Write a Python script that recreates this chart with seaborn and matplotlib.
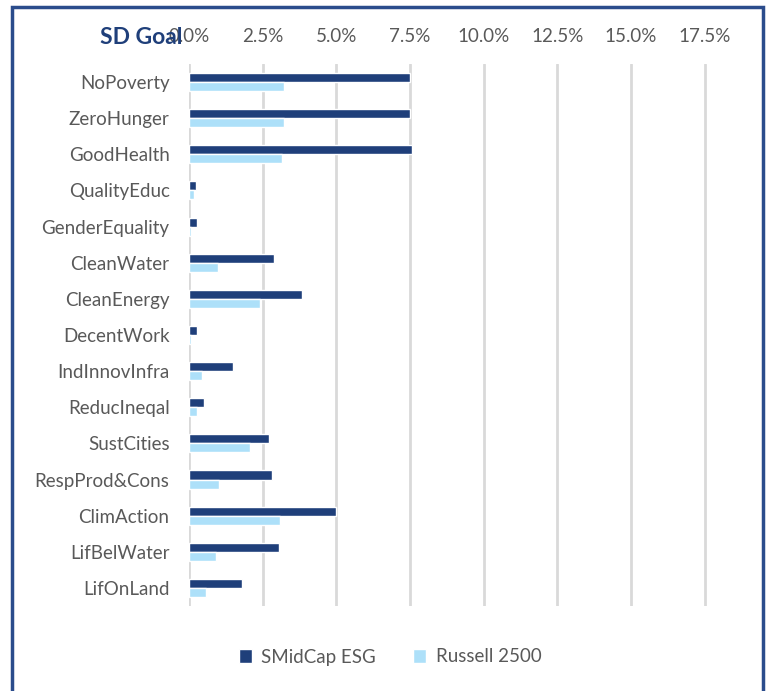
import matplotlib
matplotlib.use('Agg')
import matplotlib.pyplot as plt
import matplotlib.ticker as mticker
from matplotlib.patches import Rectangle
import pandas as pd
import seaborn as sns

# Chart data (share of portfolio mapped to each SD goal)
goals = ['NoPoverty', 'ZeroHunger', 'GoodHealth', 'QualityEduc', 'GenderEquality',
         'CleanWater', 'CleanEnergy', 'DecentWork', 'IndInnovInfra', 'ReducIneqal',
         'SustCities', 'RespProd&Cons', 'ClimAction', 'LifBelWater', 'LifOnLand']
smidcap_esg = [0.0750, 0.0750, 0.0758, 0.0025, 0.0026, 0.0288, 0.0382, 0.0026,
               0.0149, 0.0052, 0.0271, 0.0282, 0.0498, 0.0305, 0.0181]
russell_2500 = [0.0323, 0.0323, 0.0315, 0.0016, 0.0008, 0.0097, 0.0240, 0.0008,
                0.0043, 0.0026, 0.0207, 0.0102, 0.0308, 0.0093, 0.0059]
series_names = ['SMidCap ESG', 'Russell 2500']
tick_values = [0, 0.025, 0.05, 0.075, 0.10, 0.125, 0.15, 0.175]

df = pd.DataFrame({
    'Goal': goals * 2,
    'Series': [series_names[0]] * len(goals) + [series_names[1]] * len(goals),
    'Value': smidcap_esg + russell_2500,
})

sns.set_style('white')
plt.rcParams['font.family'] = ['Lato', 'DejaVu Sans']

text_gray = '#595959'
dark_blue = '#1F3F7A'
light_blue = '#ADE0F9'

fig = plt.figure(figsize=(7.66, 6.91), dpi=100)
W, H = 766, 691
ax = fig.add_axes([189 / W, 1 - 606 / H, (737 - 189) / W, (606 - 64) / H])

sns.barplot(data=df, y='Goal', x='Value', hue='Series', orient='h',
            palette=[dark_blue, light_blue], width=0.5, ax=ax,
            saturation=1, legend=True)

ax.set_xlim(0, 0.186)
ax.set_xticks(tick_values)
ax.xaxis.set_major_formatter(mticker.PercentFormatter(1.0, decimals=1))
ax.xaxis.tick_top()
ax.tick_params(axis='both', length=0, labelsize=13.5, labelcolor=text_gray)
ax.tick_params(axis='y', pad=14)
ax.tick_params(axis='x', pad=14)
ax.set_xlabel('')
ax.set_ylabel('')
ax.grid(axis='x', color='#D9D9D9', linewidth=2)
ax.set_axisbelow(True)
for s in ax.spines.values():
    s.set_visible(False)

ax.legend(loc='center', bbox_to_anchor=(390 / W, 1 - 657 / H), bbox_transform=fig.transFigure,
          ncol=2, frameon=False, fontsize=13.5, handlelength=0.7, handleheight=0.7,
          columnspacing=2.0, handletextpad=0.5, labelcolor=text_gray)

fig.text(100 / W, 1 - 38 / H, 'SD Goal', fontsize=16.5, fontweight='bold',
         color='#1F3F7A', va='center', ha='left')

# outer border of the chart box
fig.patches.append(Rectangle((12 / W, -0.05), (763 - 12) / W, 1.05 - 7 / H,
                             transform=fig.transFigure, fill=False,
                             edgecolor='#2B4C8C', linewidth=2.5))

fig.savefig('out.png', dpi=100)
